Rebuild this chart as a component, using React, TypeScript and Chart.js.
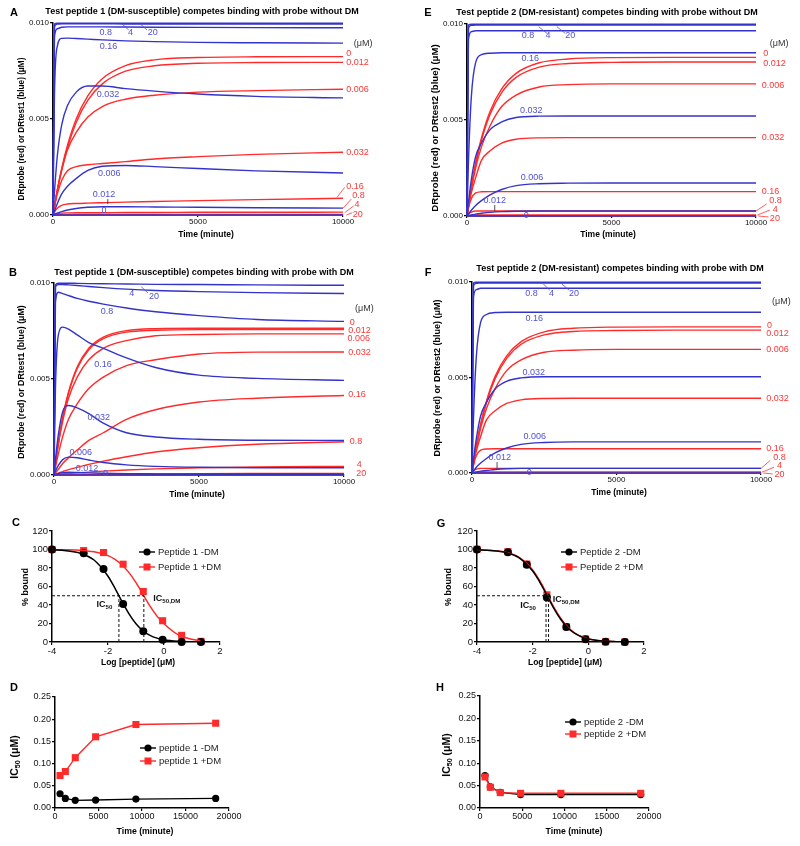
import React, { useEffect, useRef } from "react";
import { Chart, registerables } from "chart.js";

Chart.register(...registerables);

const FONT = "'Liberation Sans', Arial, Helvetica, sans-serif";
const BLUE = "#3333cc";
const BLUE_TEXT = "#5050d4";
const RED = "#ff2a2a";
const RED_TEXT = "#ff3636";
const BLACK = "#000000";

// ---------------- data: kinetics (A, B, E, F) ----------------
const CONC = ["0", "0.006", "0.012", "0.032", "0.16", "0.8", "4", "20"];
const TIME = [0, 50, 150, 300, 500, 800, 1200, 1700, 2500, 3500, 5000, 7000, 10000];
const KIN_X_TICKS = [0, 5000, 10000];
const KIN_Y_TICKS = [0, 0.005, 0.01];

// rows follow CONC order
const A_BLUE = [
  [0, 0, 0, 0, 0, 0, 0, 0, 0, 0, 0, 0, 0],
  [0, 0.0002, 0.0006, 0.0011, 0.0015, 0.0019, 0.00232, 0.00254, 0.00258, 0.00252, 0.00242, 0.0023, 0.00219],
  [0, 0.00003, 0.0001, 0.00018, 0.00026, 0.00034, 0.0004, 0.00043, 0.00043, 0.00042, 0.0004, 0.00038, 0.00036],
  [0, 0.0012, 0.0031, 0.0047, 0.0057, 0.0064, 0.00672, 0.00672, 0.00658, 0.00645, 0.0063, 0.00618, 0.0061],
  [0, 0.0062, 0.0088, 0.0092, 0.00921, 0.00919, 0.00916, 0.00912, 0.00907, 0.00903, 0.00899, 0.00897, 0.00895],
  [0, 0.0093, 0.0097, 0.00978, 0.0098, 0.0098, 0.0098, 0.0098, 0.00979, 0.00978, 0.00977, 0.00976, 0.00975],
  [0, 0.0098, 0.00994, 0.00996, 0.00996, 0.00996, 0.00996, 0.00996, 0.00995, 0.00995, 0.00995, 0.00994, 0.00994],
  [0, 0.00995, 0.00999, 0.00999, 0.00999, 0.00999, 0.00999, 0.00999, 0.00999, 0.00999, 0.00999, 0.00999, 0.00999],
];
const A_RED = [
  [0, 0.00047, 0.00132, 0.00243, 0.00363, 0.005, 0.0062, 0.0071, 0.00778, 0.00808, 0.0082, 0.00824, 0.00825],
  [0, 0.00045, 0.00128, 0.00232, 0.0034, 0.0043, 0.0051, 0.00565, 0.00603, 0.00624, 0.0064, 0.00648, 0.00655],
  [0, 0.00045, 0.00128, 0.00235, 0.0035, 0.00482, 0.00597, 0.00683, 0.00749, 0.00777, 0.0079, 0.00794, 0.00795],
  [0, 0.0004, 0.0011, 0.0018, 0.0023, 0.00252, 0.00262, 0.00268, 0.00278, 0.00292, 0.00304, 0.00316, 0.00327],
  [0, 0.00015, 0.00035, 0.0005, 0.00057, 0.0006, 0.00062, 0.00064, 0.00067, 0.0007, 0.00075, 0.0008, 0.00087],
  [0, 0.00004, 0.00008, 0.0001, 0.00011, 0.00012, 0.00012, 0.00012, 0.00013, 0.00013, 0.00014, 0.00014, 0.00015],
  [0, 0.00001, 0.00002, 0.00003, 0.00003, 0.00003, 0.00003, 0.00003, 0.00003, 0.00003, 0.00003, 0.00003, 0.00003],
  [0, 0, 0.000005, 0.000006, 0.000006, 0.000006, 0.000006, 0.000006, 0.000006, 0.000006, 0.000006, 0.000006, 0.000006],
];
const B_BLUE = [
  [0, 0, 0, 0, 0, 0, 0, 0, 0, 0, 0, 0, 0],
  [0, 0.0002, 0.0005, 0.0008, 0.00093, 0.0009, 0.00078, 0.00065, 0.00053, 0.00045, 0.0004, 0.00038, 0.00038],
  [0, 0.00003, 0.00008, 0.00012, 0.00014, 0.00013, 0.00011, 0.00009, 0.00007, 0.00006, 0.00005, 0.00005, 0.00005],
  [0, 0.0008, 0.0021, 0.0033, 0.00362, 0.0035, 0.0032, 0.0027, 0.0022, 0.00198, 0.00186, 0.00181, 0.0018],
  [0, 0.0045, 0.0073, 0.0077, 0.0076, 0.0073, 0.0069, 0.0066, 0.0061, 0.0056, 0.0052, 0.00503, 0.00493],
  [0, 0.009, 0.00952, 0.00945, 0.00935, 0.0092, 0.00905, 0.0089, 0.0087, 0.0085, 0.0083, 0.0081, 0.008],
  [0, 0.0098, 0.00992, 0.00992, 0.0099, 0.00987, 0.00982, 0.00976, 0.00968, 0.00961, 0.00955, 0.0095, 0.00945],
  [0, 0.0099, 0.00999, 0.00999, 0.00999, 0.00998, 0.00997, 0.00996, 0.00995, 0.00993, 0.00992, 0.0099, 0.00988],
];
const B_RED = [
  [0, 0.00061, 0.00168, 0.003, 0.00431, 0.00562, 0.0066, 0.00718, 0.00752, 0.00762, 0.00764, 0.00764, 0.00764],
  [0, 0.00058, 0.0016, 0.0028, 0.004, 0.0051, 0.006, 0.0066, 0.007, 0.00725, 0.00732, 0.00735, 0.00735],
  [0, 0.0006, 0.00166, 0.00297, 0.00426, 0.00555, 0.00652, 0.0071, 0.00744, 0.00754, 0.00757, 0.00757, 0.00757],
  [0, 0.0004, 0.0011, 0.002, 0.0029, 0.0037, 0.0045, 0.0051, 0.0057, 0.006, 0.0063, 0.0064, 0.00641],
  [0, 0.0001, 0.0003, 0.0006, 0.0009, 0.0013, 0.0018, 0.0022, 0.0029, 0.0034, 0.0038, 0.004, 0.00414],
  [0, 0.00003, 0.0001, 0.00018, 0.00028, 0.0004, 0.00055, 0.00072, 0.00095, 0.0012, 0.00142, 0.0016, 0.00173],
  [0, 0.00001, 0.00003, 0.00005, 0.00008, 0.00011, 0.00015, 0.0002, 0.00026, 0.00032, 0.00037, 0.00042, 0.00045],
  [0, 0, 0.000005, 0.00001, 0.000015, 0.00002, 0.00003, 0.00004, 0.00005, 0.00006, 0.00007, 0.000075, 0.00008],
];
const E_BLUE = [
  [0, 0, 0, 0, 0, 0, 0, 0, 0, 0, 0, 0, 0],
  [0, 0.0001, 0.0003, 0.00055, 0.0008, 0.0011, 0.00138, 0.00158, 0.00168, 0.00171, 0.00172, 0.00172, 0.00172],
  [0, 0.00002, 0.00005, 0.0001, 0.00014, 0.00019, 0.00023, 0.00025, 0.00026, 0.00026, 0.00026, 0.00026, 0.00026],
  [0, 0.0007, 0.0019, 0.0031, 0.0038, 0.0045, 0.0049, 0.00513, 0.0052, 0.00521, 0.00521, 0.00521, 0.00521],
  [0, 0.0028, 0.0062, 0.008, 0.0084, 0.00848, 0.0085, 0.0085, 0.0085, 0.0085, 0.0085, 0.0085, 0.0085],
  [0, 0.0092, 0.0096, 0.00965, 0.00965, 0.00965, 0.00965, 0.00965, 0.00965, 0.00965, 0.00965, 0.00965, 0.00965],
  [0, 0.0098, 0.00993, 0.00994, 0.00994, 0.00994, 0.00994, 0.00994, 0.00994, 0.00994, 0.00994, 0.00994, 0.00994],
  [0, 0.00995, 0.00999, 0.00999, 0.00999, 0.00999, 0.00999, 0.00999, 0.00999, 0.00999, 0.00999, 0.00999, 0.00999],
];
const E_RED = [
  [0, 0.00054, 0.00152, 0.00276, 0.00406, 0.00546, 0.00662, 0.00743, 0.00798, 0.00818, 0.00825, 0.00826, 0.00826],
  [0, 0.0005, 0.0014, 0.0025, 0.0036, 0.0047, 0.0057, 0.0063, 0.00672, 0.00684, 0.00688, 0.00688, 0.00688],
  [0, 0.00052, 0.00148, 0.00268, 0.00394, 0.0053, 0.00643, 0.00722, 0.00775, 0.00794, 0.008, 0.00802, 0.00802],
  [0, 0.00045, 0.0012, 0.002, 0.0029, 0.0034, 0.0038, 0.004, 0.00407, 0.00408, 0.00408, 0.00408, 0.00408],
  [0, 0.0004, 0.0009, 0.0012, 0.00126, 0.00127, 0.00127, 0.00127, 0.00127, 0.00127, 0.00127, 0.00127, 0.00127],
  [0, 0.0001, 0.0002, 0.00026, 0.00026, 0.00026, 0.00026, 0.00026, 0.00026, 0.00026, 0.00026, 0.00026, 0.00026],
  [0, 0.00002, 0.00004, 0.00005, 0.00005, 0.00005, 0.00005, 0.00005, 0.00005, 0.00005, 0.00005, 0.00005, 0.00005],
  [0, 0, 0.00001, 0.00001, 0.00001, 0.00001, 0.00001, 0.00001, 0.00001, 0.00001, 0.00001, 0.00001, 0.00001],
];
const F_BLUE = [
  [0, 0, 0, 0, 0, 0, 0, 0, 0, 0, 0, 0, 0],
  [0, 0.0001, 0.0003, 0.00052, 0.00076, 0.00105, 0.00131, 0.0015, 0.0016, 0.00163, 0.00163, 0.00163, 0.00163],
  [0, 0.00002, 0.00005, 0.0001, 0.00013, 0.00018, 0.00022, 0.00024, 0.00024, 0.00024, 0.00024, 0.00024, 0.00024],
  [0, 0.0007, 0.0018, 0.003, 0.0037, 0.0044, 0.0048, 0.00498, 0.00504, 0.00504, 0.00504, 0.00504, 0.00504],
  [0, 0.0028, 0.0061, 0.0079, 0.0083, 0.0084, 0.00842, 0.00842, 0.00842, 0.00842, 0.00842, 0.00842, 0.00842],
  [0, 0.0092, 0.0096, 0.00967, 0.00967, 0.00967, 0.00967, 0.00967, 0.00967, 0.00967, 0.00967, 0.00967, 0.00967],
  [0, 0.0098, 0.00993, 0.00995, 0.00995, 0.00995, 0.00995, 0.00995, 0.00995, 0.00995, 0.00995, 0.00995, 0.00995],
  [0, 0.00995, 0.00999, 0.00999, 0.00999, 0.00999, 0.00999, 0.00999, 0.00999, 0.00999, 0.00999, 0.00999, 0.00999],
];
const F_RED = [
  [0, 0.0005, 0.00141, 0.00256, 0.00376, 0.00506, 0.00613, 0.00688, 0.00739, 0.00758, 0.00764, 0.00765, 0.00765],
  [0, 0.00047, 0.00132, 0.00235, 0.00338, 0.00442, 0.00536, 0.00592, 0.00632, 0.00643, 0.00647, 0.00647, 0.00647],
  [0, 0.00049, 0.00138, 0.0025, 0.00368, 0.00494, 0.006, 0.00674, 0.00723, 0.00741, 0.00746, 0.00748, 0.00748],
  [0, 0.00043, 0.00115, 0.00192, 0.00278, 0.00326, 0.00364, 0.00383, 0.0039, 0.00391, 0.00391, 0.00391, 0.00391],
  [0, 0.0004, 0.0009, 0.0012, 0.00126, 0.00127, 0.00127, 0.00127, 0.00127, 0.00127, 0.00127, 0.00127, 0.00127],
  [0, 0.0001, 0.0002, 0.00024, 0.00024, 0.00024, 0.00024, 0.00024, 0.00024, 0.00024, 0.00024, 0.00024, 0.00024],
  [0, 0.00002, 0.00004, 0.00005, 0.00005, 0.00005, 0.00005, 0.00005, 0.00005, 0.00005, 0.00005, 0.00005, 0.00005],
  [0, 0, 0.00001, 0.00001, 0.00001, 0.00001, 0.00001, 0.00001, 0.00001, 0.00001, 0.00001, 0.00001, 0.00001],
];

// curve labels: [text, time, value]
const A_BLUE_LABELS: [string, number, number][] = [["0.8", 1820, 0.00953], ["4", 2670, 0.00953], ["20", 3440, 0.00953], ["0.16", 1910, 0.00877], ["0.032", 1900, 0.00628], ["0.006", 1940, 0.00217], ["0.012", 1760, 0.00108], ["0", 1760, 0.00023]];
const A_RED_LABELS: [string, number, number][] = [["0", 10115, 0.00842], ["0.012", 10115, 0.00795], ["0.006", 10115, 0.00655], ["0.032", 10115, 0.00326], ["0.16", 10115, 0.00148], ["0.8", 10320, 0.00101], ["4", 10400, 0.00054], ["20", 10340, 0.0]];
const B_BLUE_LABELS: [string, number, number][] = [["4", 2680, 0.00943], ["20", 3450, 0.00931], ["0.8", 1830, 0.00849], ["0.16", 1690, 0.00575], ["0.032", 1540, 0.00302], ["0.006", 920, 0.00116], ["0.012", 1140, 0.00033], ["0", 1780, 0.00007]];
const B_RED_LABELS: [string, number, number][] = [["0", 10200, 0.00792], ["0.012", 10150, 0.00754], ["0.006", 10120, 0.00709], ["0.032", 10150, 0.00636], ["0.16", 10150, 0.00419], ["0.8", 10200, 0.00173], ["4", 10440, 0.00055], ["20", 10420, 0.00007]];
const E_BLUE_LABELS: [string, number, number][] = [["0.8", 2110, 0.00938], ["4", 2800, 0.00938], ["20", 3570, 0.00938], ["0.16", 2190, 0.00818], ["0.032", 2220, 0.00547], ["0.006", 2250, 0.002], ["0.012", 960, 0.00082], ["0", 2050, 0.00005]];
const E_RED_LABELS: [string, number, number][] = [["0", 10250, 0.00847], ["0.012", 10250, 0.00795], ["0.006", 10200, 0.00679], ["0.032", 10200, 0.00408], ["0.16", 10200, 0.00127], ["0.8", 10460, 0.0008], ["4", 10580, 0.00035], ["20", 10480, -0.00012]];
const F_BLUE_LABELS: [string, number, number][] = [["0.8", 2060, 0.00939], ["4", 2750, 0.00939], ["20", 3530, 0.00939], ["0.16", 2150, 0.00809], ["0.032", 2140, 0.00527], ["0.006", 2170, 0.00191], ["0.012", 960, 0.00082], ["0", 1980, 0.00005]];
const F_RED_LABELS: [string, number, number][] = [["0", 10210, 0.00774], ["0.012", 10185, 0.0073], ["0.006", 10185, 0.00647], ["0.032", 10185, 0.00388], ["0.16", 10185, 0.0013], ["0.8", 10420, 0.00082], ["4", 10555, 0.00038], ["20", 10470, -0.00009]];

// ---------------- data: dose response (C, G) ----------------
const DOSE_X_TICKS = [-4, -2, 0, 2];
const DOSE_Y_TICKS = [0, 20, 40, 60, 80, 100, 120];
const C_LOG = [-4, -2.87, -2.16, -1.46, -0.74, -0.05, 0.63, 1.32];
const C_BOUND_NODM = [100, 95.9, 79, 41, 11.5, 2.5, 0, 0];
const C_BOUND_DM = [100, 98.8, 96.7, 84.1, 54.6, 23, 7.2, 0.7];
const FIT_LOG = [-4, -3.5, -3, -2.5, -2, -1.75, -1.5, -1.25, -1, -0.75, -0.5, -0.25, 0, 0.5, 1, 1.3];
const C_FIT_NODM = [99.6, 98.7, 96.1, 88.6, 71.1, 58.0, 43.7, 30.4, 19.7, 12.1, 7.2, 4.2, 2.4, 0.8, 0.25, 0.12];
const C_FIT_DM = [99.9, 99.7, 99.1, 97.5, 93.4, 89.4, 83.3, 75, 64.1, 51.5, 38.8, 28, 19.8, 8, 2.9, 1.5];
const C_IC50 = [-1.61, -0.72];
const G_LOG = [-4, -2.89, -2.21, -1.49, -0.79, -0.1, 0.62, 1.31];
const G_BOUND_NODM = [100, 97, 83.5, 48, 16.3, 2.9, 0.3, 0];
const G_BOUND_DM = [100.3, 97.6, 84.3, 51, 16.5, 3.2, 0.3, 0];
const G_FIT_NODM = [99.7, 99.0, 97.1, 91.3, 76.8, 65.1, 51.2, 37.0, 24.9, 15.7, 9.5, 5.6, 3.2, 1.0, 0.33, 0.17];
const G_FIT_DM = [99.7, 99.0, 97.3, 91.8, 78.0, 66.5, 52.6, 38.3, 26.0, 16.5, 10.0, 5.9, 3.4, 1.1, 0.35, 0.18];
const G_IC50 = [-1.52, -1.43];

// ---------------- data: IC50 vs time (D, H) ----------------
const IC_X_TICKS = [0, 5000, 10000, 15000, 20000];
const IC_Y_TICKS = [0, 0.05, 0.1, 0.15, 0.2, 0.25];
const D_TIME = [580, 1190, 2330, 4670, 9300, 18470];
const D_IC50_NODM = [0.0321, 0.0216, 0.0172, 0.0179, 0.0201, 0.0216];
const D_IC50_DM = [0.0731, 0.0821, 0.1134, 0.1604, 0.188, 0.191];
const H_TIME = [590, 1220, 2400, 4800, 9570, 19020];
const H_IC50_NODM = [0.0724, 0.047, 0.0351, 0.0299, 0.0299, 0.0299];
const H_IC50_DM = [0.0694, 0.0463, 0.0343, 0.0328, 0.0328, 0.0328];

// ---------------- drawing helpers ----------------
type Seg = { t: string; sub?: boolean };
const WY = 38;
const HX = 18;

const tf = (size: number, bold = false) => `${bold ? "bold " : ""}${size}px ${FONT}`;

function drawRich(ctx: any, segs: Seg[], x: number, y: number, size: number, bold: boolean, color: string, align: string, rot = false) {
  const sub = size * 0.68;
  let total = 0;
  const ws = segs.map((s) => {
    ctx.font = tf(s.sub ? sub : size, bold);
    const w = ctx.measureText(s.t).width;
    total += w;
    return w;
  });
  ctx.save();
  ctx.translate(x, y);
  if (rot) ctx.rotate(-Math.PI / 2);
  ctx.fillStyle = color;
  ctx.textAlign = "left";
  ctx.textBaseline = "middle";
  let cx = align === "left" ? 0 : align === "right" ? -total : -total / 2;
  segs.forEach((s, i) => {
    ctx.font = tf(s.sub ? sub : size, bold);
    ctx.fillText(s.t, cx, s.sub ? size * 0.32 : 0);
    cx += ws[i];
  });
  ctx.restore();
}

const S = (t: string): Seg[] => [{ t }];

function decorPlugin(p: any) {
  return {
    id: "decor",
    afterDraw(chart: any) {
      const ctx = chart.ctx;
      const [bl, bt] = p.box;
      const xs = chart.scales.x;
      const ys = chart.scales.y;
      const X = (v: number) => xs.getPixelForValue(v);
      const Y = (v: number) => ys.getPixelForValue(v);
      ctx.save();
      (p.leaders || []).forEach((l: any) => {
        ctx.strokeStyle = l[4];
        ctx.lineWidth = 0.8;
        ctx.beginPath();
        ctx.moveTo(X(l[0]), Y(l[1]));
        ctx.lineTo(X(l[2]), Y(l[3]));
        ctx.stroke();
      });
      (p.dataLabels || []).forEach((d: any) =>
        drawRich(ctx, d.segs, X(d.x), Y(d.y), d.size, !!d.bold, d.color, d.align)
      );
      (p.texts || []).forEach((d: any) =>
        drawRich(ctx, d.segs, d.x - bl, d.y - bt, d.size, !!d.bold, d.color || BLACK, d.align || "center", !!d.rot)
      );
      (p.legend || []).forEach((g: any) => {
        const x = g.x - bl;
        const y = g.y - bt;
        ctx.strokeStyle = g.color;
        ctx.fillStyle = g.color;
        ctx.lineWidth = 1.4;
        ctx.beginPath();
        ctx.moveTo(x - 8, y);
        ctx.lineTo(x + 8, y);
        ctx.stroke();
        if (g.style === "circle") {
          ctx.beginPath();
          ctx.arc(x, y, 3.6, 0, Math.PI * 2);
          ctx.fill();
        } else {
          ctx.fillRect(x - 3.5, y - 3.5, 7, 7);
        }
        drawRich(ctx, S(g.text), x + 11, y, g.size || 9.5, false, "#222", "left");
      });
      ctx.restore();
    },
  };
}

function axis(kind: "x" | "y", min: number, max: number, ticks: number[], fmt: (v: number) => string, fontSize: number, tickLen: number, pad: number) {
  return {
    type: "linear",
    min,
    max,
    afterBuildTicks: (s: any) => {
      s.ticks = ticks.map((v) => ({ value: v }));
    },
    afterFit: (s: any) => {
      if (kind === "x") s.height = HX;
      else s.width = WY;
    },
    ticks: {
      font: { family: FONT, size: fontSize },
      color: "#111",
      padding: pad,
      maxRotation: 0,
      autoSkip: false,
      callback: (v: any) => fmt(Number(v)),
    },
    grid: { display: true, drawOnChartArea: false, drawTicks: true, tickLength: tickLen, color: "#000", lineWidth: 1.2 },
    border: { display: true, color: "#000", width: 1.5 },
  };
}

function baseOptions(p: any, scales: any) {
  const [bl, bt, bw, bh] = p.box;
  const [al, at, ar, ab] = p.area;
  return {
    animation: false,
    responsive: false,
    maintainAspectRatio: false,
    events: [],
    layout: { padding: { left: al - bl - WY, top: at - bt, right: bl + bw - ar, bottom: bt + bh - ab - HX } },
    plugins: { legend: { display: false }, tooltip: { enabled: false }, title: { display: false } },
    scales,
  };
}

const pts = (xs: number[], ys: number[]) => xs.map((x, i) => ({ x, y: ys[i] }));

function kineticConfig(p: any) {
  const mk = (arr: number[], color: string, name: string) => ({
    label: name,
    data: pts(TIME, arr),
    borderColor: color,
    backgroundColor: color,
    borderWidth: 1.4,
    pointRadius: 0,
    cubicInterpolationMode: "monotone",
    clip: false,
    fill: false,
  });
  const datasets = [
    ...p.blue.map((a: number[], i: number) => mk(a, BLUE, "blue " + CONC[i])),
    ...p.red.map((a: number[], i: number) => mk(a, RED, "red " + CONC[i])),
  ];
  const scales = {
    x: axis("x", 0, 10000, KIN_X_TICKS, (v) => String(v), 8, 2, 0),
    y: axis("y", 0, 0.01, KIN_Y_TICKS, (v) => v.toFixed(3), 8, 3, 1),
  };
  return { type: "line", data: { datasets }, options: baseOptions(p, scales), plugins: [decorPlugin(p)] };
}

function doseConfig(p: any) {
  const dash = (x1: number, y1: number, x2: number, y2: number) => ({
    label: "",
    data: [{ x: x1, y: y1 }, { x: x2, y: y2 }],
    borderColor: "#111",
    borderWidth: 1,
    borderDash: [3, 2],
    pointRadius: 0,
    fill: false,
  });
  const fit = (ys: number[], color: string, name: string) => ({
    label: name,
    data: pts(FIT_LOG, ys),
    borderColor: color,
    borderWidth: 1.5,
    pointRadius: 0,
    cubicInterpolationMode: "monotone",
    fill: false,
  });
  const dots = (ys: number[], color: string, style: string, r: number, name: string) => ({
    label: name,
    data: pts(p.logx, ys),
    showLine: false,
    borderColor: color,
    backgroundColor: color,
    pointStyle: style,
    pointRadius: r,
    pointBorderWidth: 0,
    clip: false,
  });
  const [ic1, ic2] = p.ic50;
  const datasets = [
    dash(-4, 50, ic2, 50),
    dash(ic1, 0, ic1, 50),
    dash(ic2, 0, ic2, 50),
    fit(p.fitNoDM, BLACK, "fit -DM"),
    fit(p.fitDM, RED, "fit +DM"),
    dots(p.noDM, BLACK, "circle", 4, p.names[0]),
    dots(p.dm, RED, "rect", 5, p.names[1]),
  ];
  const scales = {
    x: axis("x", -4, 2, DOSE_X_TICKS, (v) => String(v), 9.5, 3, 1),
    y: axis("y", 0, 120, DOSE_Y_TICKS, (v) => String(v), 9.5, 3, 1),
  };
  return { type: "line", data: { datasets }, options: baseOptions(p, scales), plugins: [decorPlugin(p)] };
}

function icConfig(p: any) {
  const ser = (xs: number[], ys: number[], color: string, style: string, r: number, name: string) => ({
    label: name,
    data: pts(xs, ys),
    borderColor: color,
    backgroundColor: color,
    borderWidth: 1.4,
    tension: 0,
    pointStyle: style,
    pointRadius: r,
    pointBorderWidth: 0,
    fill: false,
    clip: false,
  });
  const black = ser(p.time, p.noDM, BLACK, "circle", 3.6, p.names[0]);
  const red = ser(p.time, p.dm, RED, "rect", 5, p.names[1]);
  const datasets = p.blackOnTop ? [red, black] : [black, red];
  const scales = {
    x: axis("x", 0, 20000, IC_X_TICKS, (v) => String(v), 9, 3, 0),
    y: axis("y", 0, 0.25, IC_Y_TICKS, (v) => v.toFixed(2), 9, 3, 1),
  };
  return { type: "line", data: { datasets }, options: baseOptions(p, scales), plugins: [decorPlugin(p)] };
}

const blueLbl = (arr: [string, number, number][]) => arr.map(([t, x, y]) => ({ segs: S(t), x, y, size: 9, color: BLUE_TEXT, align: "center" }));
const redLbl = (arr: [string, number, number][]) => arr.map(([t, x, y]) => ({ segs: S(t), x, y, size: 9, color: RED_TEXT, align: "left" }));
const unitLbl = (x: number, y: number) => ({ segs: S("(μM)"), x, y, size: 9, color: "#333", align: "left" });
const IC_SEGS: Seg[] = [{ t: "IC" }, { t: "50", sub: true }];
const ICDM_SEGS: Seg[] = [{ t: "IC" }, { t: "50,DM", sub: true }];
const ICAXIS_SEGS: Seg[] = [{ t: "IC" }, { t: "50", sub: true }, { t: " (μM)" }];

// ---------------- panels ----------------
const PANEL_A = {
  box: [0, 0, 400, 246],
  area: [53, 23, 343, 215],
  blue: A_BLUE,
  red: A_RED,
  dataLabels: [...blueLbl(A_BLUE_LABELS), ...redLbl(A_RED_LABELS), unitLbl(10370, 0.00894)],
  leaders: [
    [2380, 0.00995, 2610, 0.00964, BLUE_TEXT], [3010, 0.00995, 3240, 0.00964, BLUE_TEXT], [1890, 0.00083, 1890, 0.00057, "#222"],
    [9794, 0.00092, 10057, 0.00144, RED_TEXT], [10000, 0.00035, 10286, 0.00083, RED_TEXT], [10057, 0.00012, 10366, 0.00047, RED_TEXT], [10115, 0, 10320, 0.00012, RED_TEXT],
  ],
  texts: [
    { segs: S("A"), x: 14, y: 13, size: 11, bold: true },
    { segs: S("Test peptide 1 (DM-susceptible) competes binding with probe without DM"), x: 202, y: 12, size: 9, bold: true },
    { segs: S("DRprobe (red) or DRtest1 (blue) (μM)"), x: 22, y: 129, size: 8.2, bold: true, rot: true },
    { segs: S("Time (minute)"), x: 206, y: 235, size: 8.5, bold: true },
  ],
};
const PANEL_E = {
  box: [400, 0, 400, 246],
  area: [467, 24, 756, 216],
  blue: E_BLUE,
  red: E_RED,
  dataLabels: [...blueLbl(E_BLUE_LABELS), ...redLbl(E_RED_LABELS), unitLbl(10480, 0.00899)],
  leaders: [
    [2480, 0.00986, 2770, 0.00951, BLUE_TEXT], [3110, 0.00986, 3400, 0.00951, BLUE_TEXT], [960, 0.00057, 960, 0.00026, "#222"],
    [10000, 0.00026, 10370, 0.00063, RED_TEXT], [10046, 0.00005, 10480, 0.00031, RED_TEXT], [10080, 0, 10430, -0.00005, RED_TEXT],
  ],
  texts: [
    { segs: S("E"), x: 428, y: 13, size: 11, bold: true },
    { segs: S("Test peptide 2 (DM-resistant) competes binding with probe without DM"), x: 607, y: 13, size: 9, bold: true },
    { segs: S("DRprobe (red) or DRtest2 (blue) (μM)"), x: 435, y: 128, size: 9.6, bold: true, rot: true },
    { segs: S("Time (minute)"), x: 608, y: 235, size: 8.5, bold: true },
  ],
};
const PANEL_B = {
  box: [0, 246, 400, 256],
  area: [54, 283, 344, 475],
  blue: B_BLUE,
  red: B_RED,
  dataLabels: [...blueLbl(B_BLUE_LABELS), ...redLbl(B_RED_LABELS), unitLbl(10380, 0.00865)],
  leaders: [[3010, 0.0098, 3245, 0.00948, BLUE_TEXT]],
  texts: [
    { segs: S("B"), x: 13, y: 273, size: 11, bold: true },
    { segs: S("Test peptide 1 (DM-susceptible) competes binding with probe with DM"), x: 204, y: 273, size: 9, bold: true },
    { segs: S("DRprobe (red) or DRtest1 (blue) (μM)"), x: 22, y: 382, size: 8.8, bold: true, rot: true },
    { segs: S("Time (minute)"), x: 197, y: 495, size: 8.5, bold: true },
  ],
};
const PANEL_F = {
  box: [400, 246, 400, 256],
  area: [472, 282, 761, 473],
  blue: F_BLUE,
  red: F_RED,
  dataLabels: [...blueLbl(F_BLUE_LABELS), ...redLbl(F_RED_LABELS), unitLbl(10380, 0.00899)],
  leaders: [
    [2460, 0.00991, 2690, 0.00957, BLUE_TEXT], [3100, 0.00991, 3360, 0.00957, BLUE_TEXT], [867, 0.00057, 867, 0.00024, "#222"],
    [10000, 0.00024, 10320, 0.00066, RED_TEXT], [10040, 0.00005, 10450, 0.0003, RED_TEXT], [10080, 0, 10400, -0.00005, RED_TEXT],
  ],
  texts: [
    { segs: S("F"), x: 428, y: 273, size: 11, bold: true },
    { segs: S("Test peptide 2 (DM-resistant) competes binding with probe with DM"), x: 620, y: 269, size: 9, bold: true },
    { segs: S("DRprobe (red) or DRtest2 (blue) (μM)"), x: 438, y: 378, size: 9, bold: true, rot: true },
    { segs: S("Time (minute)"), x: 619, y: 493, size: 8.5, bold: true },
  ],
};
const PANEL_C = {
  box: [0, 502, 400, 174],
  area: [52, 531, 220, 642],
  logx: C_LOG,
  noDM: C_BOUND_NODM,
  dm: C_BOUND_DM,
  fitNoDM: C_FIT_NODM,
  fitDM: C_FIT_DM,
  ic50: C_IC50,
  names: ["Peptide 1 -DM", "Peptide 1 +DM"],
  dataLabels: [
    { segs: IC_SEGS, x: -2.41, y: 40.2, size: 9, bold: true, color: "#111", align: "left" },
    { segs: ICDM_SEGS, x: -0.38, y: 46.7, size: 9, bold: true, color: "#111", align: "left" },
  ],
  legend: [
    { x: 147, y: 552, text: "Peptide 1 -DM", color: BLACK, style: "circle" },
    { x: 147, y: 567, text: "Peptide 1 +DM", color: RED, style: "rect" },
  ],
  texts: [
    { segs: S("C"), x: 16, y: 523, size: 11, bold: true },
    { segs: S("% bound"), x: 26, y: 587, size: 9, bold: true, rot: true },
    { segs: S("Log [peptide] (μM)"), x: 138, y: 663, size: 8.5, bold: true },
  ],
};
const PANEL_G = {
  box: [400, 502, 400, 174],
  area: [477, 531, 644, 642],
  logx: G_LOG,
  noDM: G_BOUND_NODM,
  dm: G_BOUND_DM,
  fitNoDM: G_FIT_NODM,
  fitDM: G_FIT_DM,
  ic50: G_IC50,
  names: ["Peptide 2 -DM", "Peptide 2 +DM"],
  dataLabels: [
    { segs: IC_SEGS, x: -2.45, y: 39.8, size: 9, bold: true, color: "#111", align: "left" },
    { segs: ICDM_SEGS, x: -1.28, y: 46.3, size: 9, bold: true, color: "#111", align: "left" },
  ],
  legend: [
    { x: 569, y: 552, text: "Peptide 2 -DM", color: BLACK, style: "circle" },
    { x: 569, y: 567, text: "Peptide 2 +DM", color: RED, style: "rect" },
  ],
  texts: [
    { segs: S("G"), x: 441, y: 524, size: 11, bold: true },
    { segs: S("% bound"), x: 449, y: 587, size: 9, bold: true, rot: true },
    { segs: S("Log [peptide] (μM)"), x: 565, y: 663, size: 8.5, bold: true },
  ],
};
const PANEL_D = {
  box: [0, 676, 400, 170],
  area: [55, 697, 229, 808],
  time: D_TIME,
  noDM: D_IC50_NODM,
  dm: D_IC50_DM,
  names: ["peptide 1 -DM", "peptide 1 +DM"],
  blackOnTop: false,
  legend: [
    { x: 148, y: 748, text: "peptide 1 -DM", color: BLACK, style: "circle" },
    { x: 148, y: 761, text: "peptide 1 +DM", color: RED, style: "rect" },
  ],
  texts: [
    { segs: S("D"), x: 14, y: 688, size: 11, bold: true },
    { segs: ICAXIS_SEGS, x: 15, y: 757, size: 10.5, bold: true, rot: true },
    { segs: S("Time (minute)"), x: 145, y: 832, size: 8.7, bold: true },
  ],
};
const PANEL_H = {
  box: [400, 676, 400, 170],
  area: [480, 696, 649, 808],
  time: H_TIME,
  noDM: H_IC50_NODM,
  dm: H_IC50_DM,
  names: ["peptide 2 -DM", "peptide 2 +DM"],
  blackOnTop: true,
  legend: [
    { x: 573, y: 722, text: "peptide 2 -DM", color: BLACK, style: "circle" },
    { x: 573, y: 734, text: "peptide 2 +DM", color: RED, style: "rect" },
  ],
  texts: [
    { segs: S("H"), x: 440, y: 688, size: 11, bold: true },
    { segs: ICAXIS_SEGS, x: 447, y: 755, size: 10.5, bold: true, rot: true },
    { segs: S("Time (minute)"), x: 574, y: 832, size: 8.7, bold: true },
  ],
};

const PANELS = [
  { spec: PANEL_A, build: kineticConfig },
  { spec: PANEL_E, build: kineticConfig },
  { spec: PANEL_B, build: kineticConfig },
  { spec: PANEL_F, build: kineticConfig },
  { spec: PANEL_C, build: doseConfig },
  { spec: PANEL_G, build: doseConfig },
  { spec: PANEL_D, build: icConfig },
  { spec: PANEL_H, build: icConfig },
];

function ChartBox({ spec, build }: { spec: any; build: (p: any) => any }) {
  const ref = useRef<HTMLCanvasElement>(null);
  useEffect(() => {
    if (!ref.current) return;
    const chart = new Chart(ref.current, build(spec));
    return () => chart.destroy();
  }, [spec, build]);
  const [l, t, w, h] = spec.box;
  return (
    <canvas
      ref={ref}
      width={w}
      height={h}
      style={{ position: "absolute", left: l, top: t, width: w, height: h }}
    />
  );
}

export default function App() {
  return (
    <div style={{ position: "absolute", left: 0, top: 0, width: 800, height: 846, background: "#ffffff", overflow: "hidden" }}>
      {PANELS.map((p, i) => (
        <ChartBox key={i} spec={p.spec} build={p.build} />
      ))}
    </div>
  );
}
